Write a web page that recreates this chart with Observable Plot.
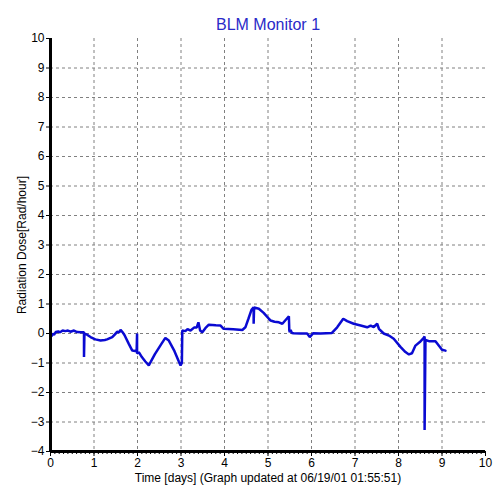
<!DOCTYPE html>
<html>
<head>
<meta charset="utf-8">
<script src="https://cdn.jsdelivr.net/npm/d3@7"></script>
<script src="https://cdn.jsdelivr.net/npm/@observablehq/plot@0.6"></script>
<style>
  html, body { margin: 0; padding: 0; background: #fff; }
</style>
</head>
<body>
<div id="chart"></div>
<script>
const title = "BLM Monitor 1";
const xLabel = "Time [days] (Graph updated at 06/19/01 01:55:51)";
const yLabel = "Radiation Dose[Rad/hour]";
const xTicks = [0, 1, 2, 3, 4, 5, 6, 7, 8, 9, 10];
const yTicks = [-4, -3, -2, -1, 0, 1, 2, 3, 4, 5, 6, 7, 8, 9, 10];
const xGrid = [1, 2, 3, 4, 5, 6, 7, 8, 9];
const yGrid = [-3, -2, -1, 0, 1, 2, 3, 4, 5, 6, 7, 8, 9];
const xMinor = d3.range(0, 101).map(i => i / 10);

const times = [
  0.00, 0.02, 0.05, 0.08, 0.12, 0.18, 0.22, 0.28, 0.34, 0.40, 0.46, 0.54, 0.61, 0.70, 0.77, 0.77, 0.78, 0.85, 0.92, 1.03,
  1.15, 1.25, 1.30, 1.42, 1.50, 1.53, 1.58, 1.61, 1.66, 1.70, 1.80, 1.88, 1.98, 1.99, 1.99, 2.03, 2.10, 2.18, 2.26, 2.40,
  2.55, 2.64, 2.72, 2.85, 2.95, 2.99, 3.02, 3.03, 3.10, 3.15, 3.22, 3.30, 3.36, 3.40, 3.44, 3.49, 3.56, 3.64, 3.80, 3.91,
  3.98, 4.20, 4.41, 4.48, 4.55, 4.62, 4.67, 4.67, 4.68, 4.79, 4.90, 5.02, 5.06, 5.15, 5.25, 5.33, 5.40, 5.48, 5.49, 5.50,
  5.52, 5.55, 5.59, 5.75, 5.90, 5.96, 6.04, 6.21, 6.47, 6.59, 6.73, 6.82, 6.97, 7.13, 7.28, 7.36, 7.43, 7.51, 7.55, 7.66,
  7.78, 7.89, 8.05, 8.16, 8.24, 8.31, 8.39, 8.49, 8.58, 8.60, 8.60, 8.62, 8.70, 8.85, 9.00, 9.08
];
const doses = [
  -0.05, -0.10, 0.00, -0.05, 0.05, 0.07, 0.04, 0.10, 0.08, 0.10, 0.06, 0.10, 0.05, 0.04, 0.04, -0.80, 0.00, -0.05, -0.12, -0.20,
  -0.24, -0.22, -0.20, -0.12, 0.00, 0.06, 0.04, 0.12, 0.04, -0.05, -0.35, -0.58, -0.60, 0.00, -0.68, -0.63, -0.80, -0.95, -1.08, -0.70,
  -0.35, -0.15, -0.24, -0.60, -0.95, -1.08, -1.00, 0.10, 0.08, 0.15, 0.10, 0.20, 0.20, 0.38, 0.10, 0.04, 0.18, 0.30, 0.28, 0.27,
  0.16, 0.14, 0.12, 0.21, 0.50, 0.80, 0.89, 0.33, 0.88, 0.84, 0.70, 0.50, 0.44, 0.40, 0.38, 0.33, 0.45, 0.58, 0.10, 0.04,
  0.12, 0.02, 0.01, 0.00, 0.00, -0.12, 0.01, 0.00, 0.02, 0.21, 0.50, 0.42, 0.33, 0.27, 0.21, 0.27, 0.22, 0.33, 0.16, 0.00,
  -0.07, -0.18, -0.46, -0.63, -0.71, -0.67, -0.41, -0.29, -0.15, -0.10, -3.27, -0.22, -0.26, -0.26, -0.55, -0.58
];
const data = times.map((t, i) => ({t, v: doses[i]}));

const gridStyle = {stroke: "#808080", strokeOpacity: 1, strokeDasharray: "3,3", strokeWidth: 1};

const chart = Plot.plot({
  width: 500,
  height: 500,
  marginLeft: 50,
  marginRight: 15,
  marginTop: 38,
  marginBottom: 49,
  x: {domain: [0, 10]},
  y: {domain: [-4, 10]},
  style: {fontFamily: "'Liberation Sans', Arial, sans-serif", fontSize: "12px", background: "#fff", color: "#000"},
  marks: [
    Plot.gridX(xGrid, gridStyle),
    Plot.gridY(yGrid, gridStyle),
    Plot.axisX(xMinor, {tickSize: 3, text: null, label: null, stroke: "#000"}),
    Plot.axisX(xTicks, {tickSize: 5, tickPadding: 2, stroke: "#000", label: xLabel, labelAnchor: "center", labelArrow: "none", labelOffset: 30}),
    Plot.axisY(yTicks, {tickSize: 4, tickPadding: 2, stroke: "#000", label: yLabel, labelAnchor: "center", labelArrow: "none", labelOffset: 33}),
    Plot.line(data, {x: "t", y: "v", stroke: "#0a0ad2", strokeWidth: 2.5, strokeLinejoin: "miter"}),
    Plot.ruleX([0], {stroke: "#000", strokeWidth: 3}),
    Plot.ruleY([-4], {stroke: "#000", strokeWidth: 3}),
    Plot.text([title], {frameAnchor: "top", dy: -20, fill: "#2a2ac8", fontSize: 16})
  ]
});
document.getElementById("chart").appendChild(chart);
</script>
</body>
</html>
